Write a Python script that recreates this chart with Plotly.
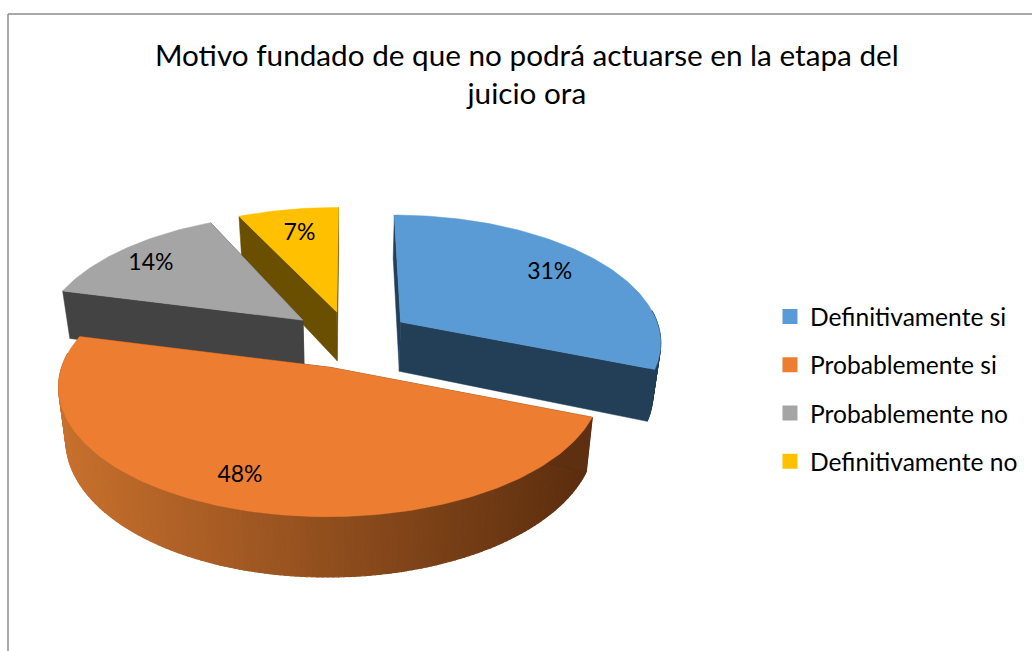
import math
import plotly.graph_objects as go

# Datos
categorias = ['Definitivamente si', 'Probablemente si', 'Probablemente no', 'Definitivamente no']
valores = [31, 48, 14, 7]
colores = ['#5B9BD5', '#ED7D31', '#A5A5A5', '#FFC000']
lados = ['#233F57', '#5E2F10', '#434343', '#6A4F00']
titulo = 'Motivo fundado de que no podrá actuarse en la etapa del<br>juicio ora'

# Proyeccion de la torta 3D
CX, CY = 350, 336
R, RY = 270, 126
PERSP = 0.143
GROSOR = 50
CONV = 0.025
EXPLOSION = 0.23
EXPLOSION_Z = 0.2
FUENTE = 'Lato'

# ajuste fino por porcion (azul, naranja, gris, amarillo)
escala_x = [0.965, 0.96, 0.975, 1]
escala_z = [1, 0.95, 1, 1]
extra_z = [0, 0.05, 0, 0]
radios = [0.76, 0.815, 0.81, 0.74]
desvio = [0, 3, -2, 0]


def proyectar(x, z, h=0):
    s = 1 / (1 - PERSP * z)
    return CX + R * x * s * (1 - CONV * h), CY + RY * z * s + GROSOR * h * s


def punto(i, ang, rad=1.0, h=0):
    # angulos en grados, horario desde arriba
    a0, a1 = angulos[i]
    mid = (a0 + a1) / 2
    ex = EXPLOSION * math.sin(math.radians(mid))
    ez = -EXPLOSION_Z * math.cos(math.radians(mid)) + extra_z[i]
    x = ex + rad * escala_x[i] * math.sin(math.radians(ang))
    z = ez - rad * escala_z[i] * math.cos(math.radians(ang))
    return proyectar(x, z, h)


def poligono(fig, pts, color, ancho=0.5):
    fig.add_trace(go.Scatter(
        x=[p[0] for p in pts] + [pts[0][0]],
        y=[p[1] for p in pts] + [pts[0][1]],
        mode='lines', fill='toself', fillcolor=color,
        line=dict(color=color, width=ancho),
        hoverinfo='skip', showlegend=False))


def mezcla(c1, c2, t):
    return 'rgb(%d,%d,%d)' % tuple(c1[i] + (c2[i] - c1[i]) * t for i in range(3))


total = sum(valores)
angulos = []
acum = 0
for v in valores:
    ini = acum / total * 360
    acum += v
    angulos.append((ini, acum / total * 360))

fig = go.Figure()

# de atras hacia adelante
for i in [3, 2, 0, 1]:
    a0, a1 = angulos[i]
    pasos = max(int(a1 - a0), 6)
    arco = [a0 + (a1 - a0) * k / pasos for k in range(pasos + 1)]
    # pared final
    poligono(fig, [punto(i, a1, 0), punto(i, a1), punto(i, a1, 1, 1), punto(i, a1, 0, 1)], lados[i])
    # borde exterior, solo lo que mira al frente
    for k in range(pasos):
        if math.cos(math.radians(arco[k])) > 0.1:
            continue
        q = [punto(i, arco[k]), punto(i, arco[k + 1]), punto(i, arco[k + 1], 1, 1), punto(i, arco[k], 1, 1)]
        color = lados[i]
        if i == 1:
            t = (punto(i, arco[k])[0] - 60) / 530
            color = mezcla((200, 113, 46), (92, 46, 15), max(0, min(1, t)))
        poligono(fig, q, color, 1.2)
    # pared inicial
    poligono(fig, [punto(i, a0, 0), punto(i, a0), punto(i, a0, 1, 1), punto(i, a0, 0, 1)], lados[i])
    # cara superior
    poligono(fig, [punto(i, 0, 0)] + [punto(i, a) for a in arco], colores[i])

# etiquetas
etiq = [punto(i, sum(angulos[i]) / 2 + desvio[i], radios[i]) for i in range(len(valores))]
fig.add_trace(go.Scatter(
    x=[p[0] for p in etiq], y=[p[1] for p in etiq],
    mode='text', text=['%d%%' % v for v in valores],
    textfont=dict(family=FUENTE, size=23, color='#000000'),
    hoverinfo='skip', showlegend=False))

# leyenda
for i, c in enumerate(categorias):
    fig.add_trace(go.Scatter(
        x=[None], y=[None], mode='markers', name=c, legendgroup=c,
        marker=dict(symbol='square', size=15, color=colores[i])))

# marco
fig.add_shape(type='line', x0=8, x1=8, y0=14, y1=651, line=dict(color='#8C8C8C', width=1.5))
fig.add_shape(type='line', x0=8, x1=1032, y0=14, y1=14, line=dict(color='#8C8C8C', width=1.5))

fig.update_layout(
    width=1032, height=651,
    margin=dict(l=0, r=0, t=0, b=0),
    plot_bgcolor='white', paper_bgcolor='white',
    title=dict(text=titulo, x=0.5105, y=0.899, xanchor='center', yanchor='top',
               font=dict(family=FUENTE, size=29.7, color='#000000')),
    xaxis=dict(range=[0, 1032], visible=False, fixedrange=True),
    yaxis=dict(range=[651, 0], visible=False, fixedrange=True),
    legend=dict(x=0.7524, y=0.4025, xanchor='left', yanchor='middle', tracegroupgap=13.3,
                font=dict(family=FUENTE, size=24.6, color='#000000'),
                itemwidth=30, indentation=-6.5, bgcolor='rgba(0,0,0,0)'),
)

fig.write_html("out.html", config={'displayModeBar': False},
               post_script="document.body.style.margin='0';")
